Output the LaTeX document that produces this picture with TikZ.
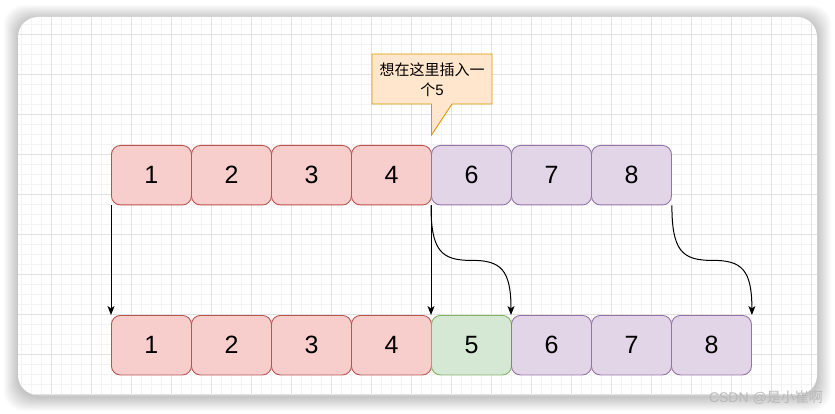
\documentclass[tikz,border=0pt]{standalone}
\usepackage{fontspec}
\setmainfont{Liberation Sans}
\newfontfamily\cjk{Noto Sans CJK SC}
\usetikzlibrary{arrows.meta}
\definecolor{redfill}{HTML}{F8CECC}
\definecolor{redline}{HTML}{B85450}
\definecolor{purfill}{HTML}{E1D5E7}
\definecolor{purline}{HTML}{9673A6}
\definecolor{grnfill}{HTML}{D5E8D4}
\definecolor{grnline}{HTML}{82B366}
\definecolor{calfill}{HTML}{FFE6CC}
\definecolor{calline}{HTML}{D79B00}
\definecolor{gridmin}{HTML}{F3F3F3}
\definecolor{gridmaj}{HTML}{E2E2E2}
\tikzset{
  cell/.style={rectangle, rounded corners=9pt, line width=0.9pt, minimum width=80pt, minimum height=59.5pt, inner sep=0pt, anchor=north west, font=\fontsize{25}{29}\selectfont},
  redcell/.style={cell, fill=redfill, draw=redline},
  purcell/.style={cell, fill=purfill, draw=purline},
  grncell/.style={cell, fill=grnfill, draw=grnline},
  conn/.style={line width=1pt, -{Stealth[length=9pt,width=7pt,inset=2.5pt]}},
}
\begin{document}
\begin{tikzpicture}[x=1pt,y=-1pt]
\useasboundingbox (0,0) rectangle (835,414);
\fill[white] (0,0) rectangle (835,414);
% card shadow
\foreach \i in {1,...,14} {
  \fill[black, opacity=0.014, rounded corners=20pt] (18-\i,17-\i+2) rectangle (817+\i,395+\i+2);
}
\fill[white, rounded corners=20pt] (18,17) rectangle (817,395);
\begin{scope}
  \clip[rounded corners=20pt] (18,17) rectangle (817,395);
  \foreach \k in {1,...,81} { \draw[gridmin, line width=0.8pt] (11+10*\k,0) -- (11+10*\k,414); }
  \foreach \k in {1,...,41} { \draw[gridmin, line width=0.8pt] (0,4+10*\k) -- (835,4+10*\k); }
  \foreach \k in {1,...,20} { \draw[gridmaj, line width=0.8pt] (11+40*\k,0) -- (11+40*\k,414); }
  \foreach \k in {1,...,10} { \draw[gridmaj, line width=0.8pt] (0,-6+40*\k) -- (835,-6+40*\k); }
\end{scope}
% callout
\draw[fill=calfill, draw=calline, line width=0.9pt, line join=miter]
  (372,54) -- (492,54) -- (492,104) -- (452,104) -- (431.5,135) -- (431.5,104) -- (372,104) -- cycle;
\node[align=center, font=\fontsize{15}{20}\selectfont] (callout) at (432,80) {{\cjk 想在这里插入一}\\{\cjk 个}5};
% top row
\node[redcell] (a1) at (111,145) {1};
\node[redcell] (a2) at (191,145) {2};
\node[redcell] (a3) at (271,145) {3};
\node[redcell] (a4) at (351,145) {4};
\node[purcell] (a6) at (431,145) {6};
\node[purcell] (a7) at (511,145) {7};
\node[purcell] (a8) at (591,145) {8};
% bottom row
\node[redcell] (b1) at (111,315) {1};
\node[redcell] (b2) at (191,315) {2};
\node[redcell] (b3) at (271,315) {3};
\node[redcell] (b4) at (351,315) {4};
\node[grncell] (b5) at (431,315) {5};
\node[purcell] (b6) at (511,315) {6};
\node[purcell] (b7) at (591,315) {7};
\node[purcell] (b8) at (671,315) {8};
% connectors
\draw[conn] (a1.south west) -- (b1.north west);
\draw[conn] (a6.south west) -- (b5.north west);
\draw[conn] (a6.south west) .. controls ([yshift=-45pt]a6.south west) and ([xshift=10pt,yshift=-55pt]a6.south west) .. ([xshift=40pt,yshift=-55pt]a6.south west)
  .. controls ([xshift=-10pt,yshift=55pt]b6.north west) and ([yshift=45pt]b6.north west) .. (b6.north west);
\draw[conn] (a8.south east) .. controls ([yshift=-45pt]a8.south east) and ([xshift=10pt,yshift=-55pt]a8.south east) .. ([xshift=40pt,yshift=-55pt]a8.south east)
  .. controls ([xshift=-10pt,yshift=55pt]b8.north east) and ([yshift=45pt]b8.north east) .. (b8.north east);
% watermark
\node[anchor=east, text=black!28, font=\fontsize{14}{16}\selectfont, inner sep=0pt] (wm) at (823,398) {CSDN @{\cjk 是小崔啊}};
\end{tikzpicture}
\end{document}
